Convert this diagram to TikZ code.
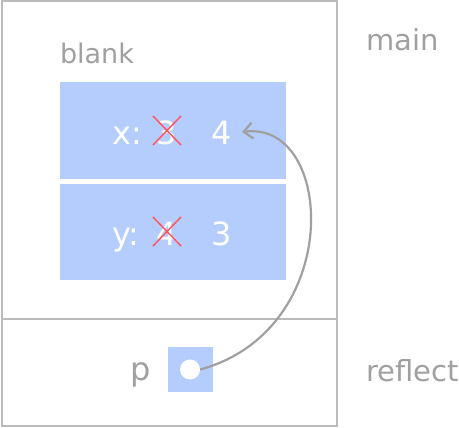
\documentclass[tikz,border=0pt]{standalone}
\usepackage{fontspec}
\setmainfont{DejaVu Sans}
\usetikzlibrary{positioning,arrows.meta,calc}
\definecolor{framegray}{RGB}{187,187,187}
\definecolor{textgray}{RGB}{160,160,160}
\definecolor{cellblue}{RGB}{180,205,252}
\definecolor{crossred}{RGB}{255,85,95}
\tikzset{
  frame/.style={draw=framegray,line width=2.5pt,rectangle,inner sep=0pt},
  cell/.style={fill=cellblue,rectangle,inner sep=0pt},
  label/.style={text=textgray,inner sep=0pt},
  val/.style={text=white,inner sep=0pt,anchor=base,font=\fontsize{32}{32}\selectfont},
  strike/.style={draw=crossred,line width=1.5pt},
}
\begin{document}
\begin{tikzpicture}[x=1pt,y=-1pt]
\useasboundingbox (0,0) rectangle (459,428);
% stack frames
\node[frame,minimum width=335pt,minimum height=318pt] (mainframe) at (169.5,160) {};
\node[frame,minimum width=335pt,minimum height=107pt] (reflectframe) at (169.5,372.5) {};
\node[label,anchor=west,font=\fontsize{29}{29}\selectfont] (mainname) at (366,40) {main};
\node[label,anchor=west,font=\fontsize{29}{29}\selectfont] (reflectname) at (366,371) {reflect};

% struct blank
\node[label,font=\fontsize{27}{27}\selectfont] (blankname) at (97,53) {blank};
\node[cell,minimum width=226pt,minimum height=97pt] (xcell) at (173,130.5) {};
\node[cell,minimum width=226pt,minimum height=96pt] (ycell) at (173,232) {};

\node[val,anchor=base west] (xlab) at (112,145) {x:};
\node[val] (xold) at (167,145) {3};
\node[val] (xnew) at (222,145) {4};
\node[val,anchor=base west] (ylab) at (112,246) {y:};
\node[val] (yold) at (167,246) {4};
\node[val] (ynew) at (222,246) {3};

% crossed out values
\coordinate (xa) at (153,116); \coordinate (xb) at (181,145);
\coordinate (xc) at (153,145); \coordinate (xd) at (181,116);
\draw[strike] (xa) -- (xb);
\draw[strike] (xc) -- (xd);
\coordinate (ya) at (153,217); \coordinate (yb) at (181,246);
\coordinate (yc) at (153,246); \coordinate (yd) at (181,217);
\draw[strike] (ya) -- (yb);
\draw[strike] (yc) -- (yd);

% pointer
\node[label,font=\fontsize{32}{32}\selectfont] (pname) at (141,375) {p};
\node[cell,minimum width=45pt,minimum height=45pt] (pcell) at (190,369.5) {};
\node[circle,fill=white,minimum size=20pt,inner sep=0pt] (pdot) at (190,369.5) {};
\coordinate (ptip) at (242,132);
\draw[textgray,line width=2.2pt,-{Straight Barb[length=9pt,width=16pt]}]
  (pdot.east) .. controls (345,330) and (335,120) .. (ptip);
\end{tikzpicture}
\end{document}
